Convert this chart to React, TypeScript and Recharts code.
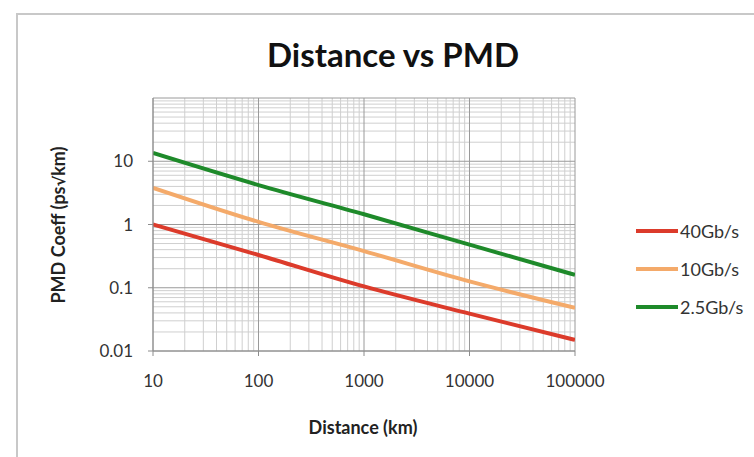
import React from "react";
import { LineChart, Line, XAxis, YAxis, ReferenceLine } from "recharts";

const distances = [10, 100, 1000, 10000, 100000];
const pmd40 = [1.0, 0.33, 0.105, 0.039, 0.015];
const pmd10 = [3.8, 1.1, 0.38, 0.126, 0.048];
const pmd25 = [13.5, 4.2, 1.45, 0.48, 0.16];

const xTicks = [10, 100, 1000, 10000, 100000];
const yTicks = [0.01, 0.1, 1, 10];
const yTop = 100;
const minorSteps = [2, 3, 4, 5, 6, 7, 8, 9];

const seriesNames = ["40Gb/s", "10Gb/s", "2.5Gb/s"];
const seriesKeys = ["r", "o", "g"];
const seriesColors = ["#dc3b2b", "#f4aa6a", "#1e8a2a"];

const data = distances.map((x, i) => ({ x, r: pmd40[i], o: pmd10[i], g: pmd25[i] }));

const xMinor: number[] = [];
xTicks.slice(0, -1).forEach((d) => minorSteps.forEach((m) => xMinor.push(d * m)));
const yMajor = [...yTicks, yTop];
const yMinor: number[] = [];
yMajor.slice(0, -1).forEach((d) => minorSteps.forEach((m) => yMinor.push(+(d * m).toPrecision(3))));

const FONT = "Lato, 'Open Sans', sans-serif";

export default function App() {
  return (
    <div style={{ position: "absolute", left: 0, top: 0, width: 754, height: 457, background: "#fff", overflow: "hidden" }}>
      <div style={{ position: "absolute", left: 16, top: 13, width: 800, height: 500, border: "2px solid #c8c8c8" }} />
      <div style={{ position: "absolute", left: 0, top: 0 }}>
        <LineChart width={754} height={457} data={data} margin={{ top: 98, right: 179, bottom: 76, left: 93 }}>
          <XAxis
            dataKey="x"
            type="number"
            scale="log"
            domain={[10, 100000]}
            ticks={xTicks}
            allowDataOverflow
            height={30}
            stroke="#8c8c8c"
            tickSize={5}
            tick={{ fill: "#333", fontSize: 17, fontFamily: FONT }}
            tickMargin={19}
          />
          <YAxis
            type="number"
            scale="log"
            domain={[0.01, yTop]}
            ticks={yTicks}
            allowDataOverflow
            width={60}
            stroke="#8c8c8c"
            tickSize={5}
            tick={{ fill: "#333", fontSize: 17, fontFamily: FONT }}
            tickMargin={15}
          />
          {xMinor.map((v) => (
            <ReferenceLine key={"xm" + v} x={v} stroke="#cfcfcf" strokeWidth={1} />
          ))}
          {yMinor.map((v) => (
            <ReferenceLine key={"ym" + v} y={v} stroke="#cfcfcf" strokeWidth={1} />
          ))}
          {xTicks.map((v) => (
            <ReferenceLine key={"xM" + v} x={v} stroke="#9a9a9a" strokeWidth={1} />
          ))}
          {yMajor.map((v) => (
            <ReferenceLine key={"yM" + v} y={v} stroke="#9a9a9a" strokeWidth={1} />
          ))}
          {seriesKeys.map((k, i) => (
            <Line
              key={k}
              dataKey={k}
              name={seriesNames[i]}
              type="monotone"
              stroke={seriesColors[i]}
              strokeWidth={4}
              dot={false}
              isAnimationActive={false}
            />
          ))}
        </LineChart>
      </div>
      <div style={{ position: "absolute", left: 636, top: 212, fontFamily: FONT, fontSize: 18, color: "#333" }}>
        {seriesNames.map((n, i) => (
          <div key={n} style={{ display: "flex", alignItems: "center", height: 38 }}>
            <div style={{ width: 42, height: 4, background: seriesColors[i], marginRight: 2 }} />
            <span>{n}</span>
          </div>
        ))}
      </div>
      <div
        style={{
          position: "absolute",
          left: 0,
          width: 786,
          top: 34,
          textAlign: "center",
          fontFamily: FONT,
          fontWeight: "bold",
          fontSize: 33,
          color: "#111",
        }}
      >
        Distance vs PMD
      </div>
      <div
        style={{
          position: "absolute",
          left: 213,
          width: 300,
          top: 416,
          textAlign: "center",
          fontFamily: FONT,
          fontWeight: "bold",
          fontSize: 18,
          color: "#222",
        }}
      >
        Distance (km)
      </div>
      <div style={{ position: "absolute", left: 59, top: 225, width: 0, height: 0 }}>
        <div
          style={{
            position: "absolute",
            left: 0,
            top: 0,
            transform: "translate(-50%, -50%) rotate(-90deg)",
            fontFamily: FONT,
            fontWeight: "bold",
            fontSize: 18,
            lineHeight: "24px",
            color: "#222",
            whiteSpace: "nowrap",
          }}
        >
          PMD Coeff (ps<span style={{ fontFamily: "'DejaVu Sans', sans-serif", fontSize: 16 }}>√</span>km)
        </div>
      </div>
    </div>
  );
}
